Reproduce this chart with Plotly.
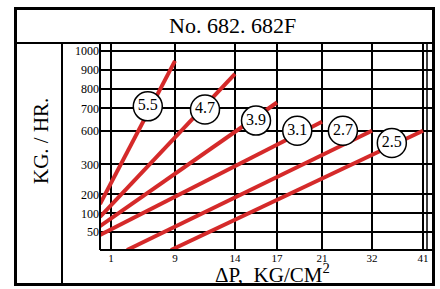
import numpy as np
import plotly.graph_objects as go

# ---------------- data ----------------
X_TICK_LABELS = [1, 9, 14, 17, 21, 32, 41]                      # ΔP, KG/CM2
Y_TICK_LABELS = [50, 100, 200, 300, 600, 700, 800, 900, 1000]   # KG/HR

SERIES_NAMES = ["5.5", "4.7", "3.9", "3.1", "2.7", "2.5"]
DP_START = [0, 0, 0, 0, 3, 8.5]
DP_END = [9, 14, 17, 21, 32, 41]
FLOW_START = [149, 90, 65, 41, 0, 0]
FLOW_END = [947, 880, 730, 640, 600, 600]
LABEL_DP = [5.6, 11.5, 15.5, 18.8, 25.6, 35.5]
LABEL_FLOW = [710, 695, 645, 600, 600, 490]

# ---------------- chart's non-uniform scales (layout) ----------------
X_SCALE_VALUES = [0] + X_TICK_LABELS
X_SCALE_POS = [100, 111, 175, 235, 277, 322, 372, 423]
Y_SCALE_VALUES = [0] + Y_TICK_LABELS
Y_SCALE_POS = [250, 231.7, 213.3, 194.3, 164.3, 130.7, 108.3, 89, 70, 50.7]


def sx(v):
    return np.interp(v, X_SCALE_VALUES, X_SCALE_POS)


def sy(v):
    return np.interp(v, Y_SCALE_VALUES, Y_SCALE_POS)


W, H = 440, 289
L, R, T, B = 100, 432, 43, 250


def px(x):
    return (x - L) / (R - L)


def py(y):
    return (B - y) / (B - T)


RED = "#d52a2a"
SERIF = "Liberation Serif, Times New Roman, DejaVu Serif, serif"

fig = go.Figure()
for i, name in enumerate(SERIES_NAMES):
    fig.add_trace(go.Scatter(
        x=sx([DP_START[i], DP_END[i]]),
        y=sy([FLOW_START[i], FLOW_END[i]]),
        mode="lines", line=dict(color=RED, width=4), hoverinfo="skip",
    ))

fig.add_trace(go.Scatter(
    x=sx(LABEL_DP), y=sy(LABEL_FLOW), mode="markers+text",
    text=SERIES_NAMES, textposition="middle center",
    textfont=dict(family=SERIF, size=16, color="black"),
    marker=dict(size=29, color="white", line=dict(color="black", width=1.5)),
    cliponaxis=False,
))

shapes = []


def seg(x0, y0, x1, y1, w=2):
    shapes.append(dict(type="line", xref="paper", yref="paper",
                       x0=px(x0), y0=py(y0), x1=px(x1), y1=py(y1),
                       line=dict(color="black", width=w)))


seg(15, 43, 434, 43)          # title box bottom
seg(62, 43, 62, 285)          # y-title column separator
seg(100, 43, 100, 250)        # plot left edge
seg(100, 250, 434, 250)       # plot bottom
seg(427, 43, 427, 250, 1.5)   # right inner line
shapes.append(dict(type="rect", xref="paper", yref="paper",
                   x0=px(15.5), y0=py(8.5), x1=px(433.5), y1=py(284.5),
                   line=dict(color="black", width=3)))

annotations = [
    dict(text="No. 682. 682F", x=px(232), y=py(25.5), xref="paper", yref="paper",
         showarrow=False, xanchor="center", yanchor="middle",
         font=dict(family=SERIF, size=22, color="black")),
    dict(text="KG. / HR.", x=px(41), y=py(141), xref="paper", yref="paper",
         showarrow=False, xanchor="center", yanchor="middle", textangle=-90,
         font=dict(family=SERIF, size=21, color="black")),
    dict(text="ΔP,  KG/CM<sup>2</sup>", x=px(272), y=py(273), xref="paper", yref="paper",
         showarrow=False, xanchor="center", yanchor="middle",
         font=dict(family=SERIF, size=21, color="black")),
]

fig.update_layout(
    width=W, height=H,
    margin=dict(l=L, r=W - R, t=T, b=H - B, pad=0),
    paper_bgcolor="white", plot_bgcolor="white",
    showlegend=False,
    shapes=shapes, annotations=annotations,
    xaxis=dict(range=[L, R], tickvals=X_SCALE_POS[1:], ticktext=[str(v) for v in X_TICK_LABELS],
               showgrid=True, gridcolor="black", gridwidth=2, zeroline=False, showline=False,
               ticks="", tickfont=dict(family=SERIF, size=11, color="black"), fixedrange=True),
    yaxis=dict(range=[B, T], tickvals=Y_SCALE_POS[1:], ticktext=[str(v) for v in Y_TICK_LABELS],
               showgrid=True, gridcolor="black", gridwidth=2, zeroline=False, showline=False,
               ticks="", tickfont=dict(family=SERIF, size=12, color="black"), fixedrange=True),
)

fig.write_html("out.html", config={"displayModeBar": False},
               post_script="document.body.style.margin='0';document.body.style.overflow='hidden';")
